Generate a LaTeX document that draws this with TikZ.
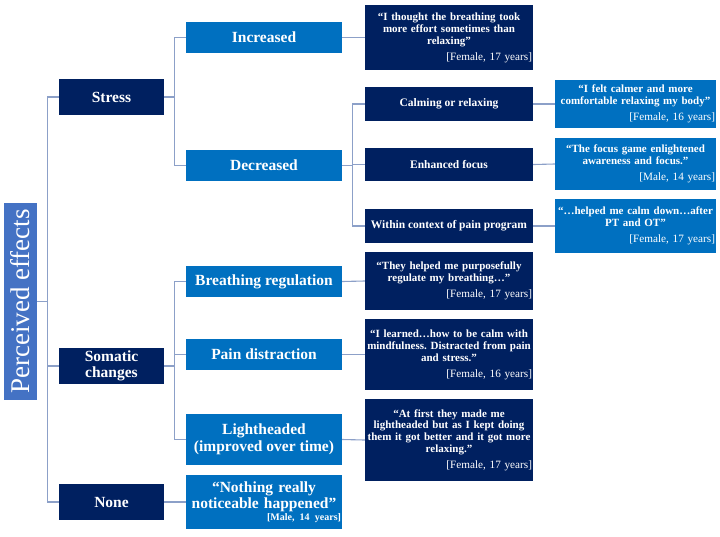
\documentclass[tikz,border=0pt]{standalone}
\usepackage{fontspec}
\setmainfont{Liberation Serif}
\definecolor{navy}{RGB}{0,32,96}
\definecolor{midblue}{RGB}{0,112,192}
\definecolor{rootblue}{RGB}{68,114,196}
\definecolor{linkgrey}{RGB}{140,160,200}
\newcommand{\quotetext}[2]{\frenchspacing{\bfseries\fontsize{11}{11.8}\selectfont\makebox[\linewidth][c]{\begin{tabular}{@{}c@{}}#1\end{tabular}}\par}\vspace{4pt}{\raggedleft #2\par}}

\begin{document}
\begin{tikzpicture}[x=1pt,y=-1pt,
    every node/.style={text=white,inner sep=0pt},
    rootbox/.style={fill=rootblue,minimum width=197,minimum height=33,font=\fontsize{27}{27}\selectfont},
    lvlone/.style={fill=navy,minimum width=105,minimum height=36,align=center,font=\bfseries\fontsize{15.5}{16.5}\selectfont},
    lvltwo/.style={fill=midblue,minimum width=156,minimum height=31,align=center,font=\bfseries\fontsize{15.5}{16.5}\selectfont},
    lvlthree/.style={fill=navy,minimum width=168,minimum height=34,align=center,font=\bfseries\fontsize{11.5}{12}\selectfont},
    quotebox/.style={fill=navy,text width=166,inner xsep=1,font=\fontsize{11.2}{12}\selectfont},
    quoteboxb/.style={fill=midblue,text width=159,inner xsep=1,font=\fontsize{11.2}{12}\selectfont},
    link/.style={draw=linkgrey,line width=1.1pt}]
  \useasboundingbox (0,0) rectangle (720,536);
  \node[rootbox,rotate=90] (root) at (20.5,301.5) {Perceived effects};
  \node[lvlone] (stress) at (111.5,97) {Stress};
  \node[lvlone] (somatic) at (111.5,366) {Somatic\\changes};
  \node[lvlone] (none) at (111.5,502) {None};
  \node[lvltwo] (incr) at (264,37.5) {Increased};
  \node[lvltwo] (decr) at (264,165.5) {Decreased};
  \node[lvltwo] (breath) at (264,281.5) {Breathing regulation};
  \node[lvltwo] (pain) at (264,354.5) {Pain distraction};
  \node[lvltwo,minimum height=51] (light) at (264,439.5) {Lightheaded\\(improved over time)};
  \node[fill=midblue,minimum height=54,text width=154,inner xsep=1,font=\bfseries\fontsize{15.5}{16.5}\selectfont] (nothing) at (264,502)
    {\frenchspacing{\centering “Nothing really\\noticeable happened”\par}\vspace{1pt}{\raggedleft\fontsize{10}{11}\selectfont [Male, 14 years]\par}};
  \node[quotebox,minimum height=65] (qincr) at (449,37.5)
    {\quotetext{“I thought the breathing took\\more effort sometimes than\\relaxing”}{[Female, 17 years]}};
  \node[lvlthree] (calm) at (449,104) {Calming or relaxing};
  \node[lvlthree,minimum height=33] (focus) at (449,164.5) {Enhanced focus};
  \node[lvlthree] (within) at (449,226) {Within context of pain program};
  \node[quotebox,minimum height=58] (qbreath) at (449,281)
    {\quotetext{“They helped me purposefully\\regulate my breathing…”}{[Female, 17 years]}};
  \node[quotebox,minimum height=71] (qpain) at (449,354.5)
    {\quotetext{“I learned…how to be calm with\\mindfulness. Distracted from pain\\and stress.”}{[Female, 16 years]}};
  \node[quotebox,minimum height=82] (qlight) at (449,440)
    {\quotetext{“At first they made me\\lightheaded but as I kept doing\\them it got better and it got more\\relaxing.”}{[Female, 17 years]}};
  \node[quoteboxb,minimum height=48] (qcalm) at (635.5,104)
    {\quotetext{“I felt calmer and more\\comfortable relaxing my body”}{[Female, 16 years]}};
  \node[quoteboxb,minimum height=52] (qfocus) at (635.5,164)
    {\quotetext{“The focus game enlightened\\awareness and focus.”}{[Male, 14 years]}};
  \node[quoteboxb,minimum height=54] (qwithin) at (635.5,226)
    {\quotetext{“…helped me calm down…after\\PT and OT”}{[Female, 17 years]}};
  \draw[link] (root.south) -- ++(11,0);
  \draw[link] (stress.west) -- ++(-11,0) |- (none.west);
  \draw[link] (somatic.west) -- ++(-11,0);
  \draw[link] (stress.east) -- ++(11,0);
  \draw[link] (incr.west) -- ++(-11,0) |- (decr.west);
  \draw[link] (somatic.east) -- ++(11,0);
  \draw[link] (breath.west) -- ++(-11,0) |- (light.west);
  \draw[link] (pain.west) -- ++(-11,0);
  \draw[link] (none.east) -- (nothing.west);
  \draw[link] (incr.east) -- (qincr.west);
  \draw[link] (breath.east) -- (qbreath.west);
  \draw[link] (pain.east) -- (qpain.west);
  \draw[link] (light.east) -- (qlight.west);
  \draw[link] (decr.east) -- ++(11,0);
  \draw[link] (calm.west) -- ++(-12,0) |- (within.west);
  \draw[link] (focus.west) -- ++(-12,0);
  \draw[link] (calm.east) -- (qcalm.west);
  \draw[link] (focus.east) -- (qfocus.west);
  \draw[link] (within.east) -- (qwithin.west);
\end{tikzpicture}
\end{document}
